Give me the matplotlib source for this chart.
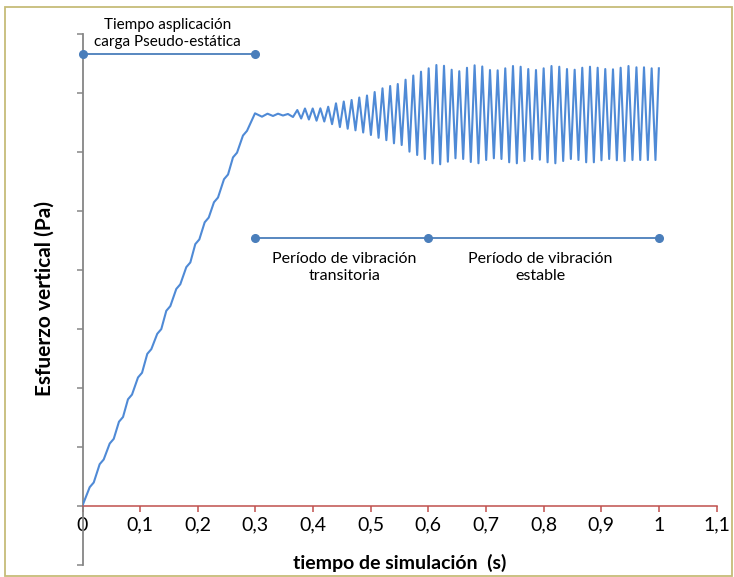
import matplotlib
matplotlib.use('Agg')
import matplotlib.pyplot as plt
import numpy as np
from matplotlib.patches import Rectangle

plt.rcParams['font.family'] = ['Lato', 'DejaVu Sans']

# ---- datos (tiempo en s, esfuerzo en unidades de la grilla) ----
ramp_t = [0.0, 0.0125, 0.0195, 0.0298, 0.0368, 0.0472, 0.0542, 0.0633, 0.0703, 0.0789,
          0.0859, 0.0963, 0.1033, 0.1124, 0.1194, 0.1297, 0.1367, 0.1454, 0.1524, 0.1627,
          0.1697, 0.1801, 0.1871, 0.1957, 0.2027, 0.2120, 0.2190, 0.2281, 0.2351, 0.2455,
          0.2525, 0.2611, 0.2681, 0.2784, 0.2854, 0.2993]
ramp_v = [0.0, 0.31, 0.39, 0.70, 0.78, 1.05, 1.13, 1.42, 1.50, 1.80,
          1.88, 2.17, 2.25, 2.57, 2.65, 2.91, 2.99, 3.30, 3.38, 3.67,
          3.75, 4.04, 4.12, 4.43, 4.51, 4.80, 4.88, 5.14, 5.22, 5.53,
          5.61, 5.90, 5.98, 6.27, 6.35, 6.647]

plateau_t = [0.3114, 0.3210, 0.3305, 0.3392, 0.3478, 0.3565, 0.3652]
plateau_v = [6.590, 6.641, 6.602, 6.641, 6.610, 6.636, 6.585]

peak_t = [0.3727, 0.3860, 0.3994, 0.4127, 0.4263, 0.4398, 0.4533, 0.4669, 0.4802, 0.4936,
          0.5069, 0.5205, 0.5338, 0.5470, 0.5605, 0.5739, 0.5873, 0.6006, 0.6140, 0.6272,
          0.6405, 0.6537, 0.6671, 0.6803, 0.6936, 0.7070, 0.7203, 0.7335, 0.7469, 0.7602,
          0.7734, 0.7868, 0.8001, 0.8137, 0.8272, 0.8406, 0.8539, 0.8671, 0.8805, 0.8938,
          0.9070, 0.9204, 0.9337, 0.9473, 0.9611, 0.9742, 0.9875, 1.0]
peak_v = [6.703, 6.729, 6.729, 6.732, 6.759, 6.817, 6.847, 6.873, 6.915, 6.949,
          7.008, 7.071, 7.110, 7.144, 7.217, 7.288, 7.353, 7.410, 7.466, 7.453,
          7.386, 7.361, 7.419, 7.461, 7.441, 7.381, 7.376, 7.410, 7.449, 7.437,
          7.398, 7.381, 7.410, 7.449, 7.437, 7.398, 7.386, 7.420, 7.437, 7.420,
          7.398, 7.393, 7.420, 7.449, 7.427, 7.427, 7.410, 7.410]

valley_t = [0.3794, 0.3928, 0.4061, 0.4195, 0.4330, 0.4466, 0.4601, 0.4736, 0.4870, 0.5004,
            0.5137, 0.5272, 0.5404, 0.5538, 0.5673, 0.5807, 0.5940, 0.6074, 0.6206, 0.6339,
            0.6471, 0.6605, 0.6737, 0.6870, 0.7004, 0.7137, 0.7269, 0.7403, 0.7536, 0.7668,
            0.7802, 0.7935, 0.8069, 0.8204, 0.8340, 0.8473, 0.8605, 0.8739, 0.8872, 0.9004,
            0.9138, 0.9271, 0.9405, 0.9542, 0.9677, 0.9809, 0.9941]
valley_v = [6.559, 6.542, 6.522, 6.508, 6.463, 6.415, 6.386, 6.359, 6.322, 6.280,
            6.232, 6.192, 6.139, 6.110, 5.997, 5.941, 5.873, 5.800, 5.783, 5.827,
            5.885, 5.873, 5.822, 5.800, 5.856, 5.885, 5.873, 5.817, 5.800, 5.839,
            5.873, 5.861, 5.817, 5.800, 5.839, 5.873, 5.856, 5.817, 5.817, 5.851,
            5.873, 5.851, 5.839, 5.856, 5.856, 5.856, 5.856]

# lineas de periodos
pseudo_t = [0.0, 0.3]
pseudo_v = [7.65, 7.65]
vib_t = [0.3, 0.6, 1.0]
vib_v = [4.53, 4.53, 4.53]

x_ticks = [0, 0.1, 0.2, 0.3, 0.4, 0.5, 0.6, 0.7, 0.8, 0.9, 1.0, 1.1]
x_tick_labels = ['0', '0,1', '0,2', '0,3', '0,4', '0,5', '0,6', '0,7', '0,8', '0,9', '1', '1,1']
y_ticks = [-1, 0, 1, 2, 3, 4, 5, 6, 7, 8]

# armar la serie completa
osc_t = np.array(peak_t + valley_t)
osc_v = np.array(peak_v + valley_v)
order = np.argsort(osc_t)
t = np.concatenate([ramp_t, plateau_t, osc_t[order]])
v = np.concatenate([ramp_v, plateau_v, osc_v[order]])

W, H = 734, 577
fig = plt.figure(figsize=(W / 100, H / 100), dpi=100)
ax = fig.add_axes([82.5 / W, 1 - 564.5 / H, 634 / W, 531 / H])

ax.plot(t, v, color='#4f8ad6', lw=1.5, solid_joinstyle='round', zorder=3)
ax.plot(pseudo_t, pseudo_v, color='#4a7ebb', lw=1.3, marker='o', ms=5.5, clip_on=False, zorder=4)
ax.plot(vib_t, vib_v, color='#4a7ebb', lw=1.3, marker='o', ms=5.5, clip_on=False, zorder=4)

ax.text(0.148, 8.0, 'Tiempo asplicación\ncarga Pseudo-estática', ha='center', va='center',
        fontsize=11, linespacing=1.35, clip_on=False)
ax.text(0.454, 4.03, 'Período de vibración\ntransitoria', ha='center', va='center',
        fontsize=11.5, linespacing=1.3)
ax.text(0.794, 4.03, 'Período de vibración\nestable', ha='center', va='center',
        fontsize=11.5, linespacing=1.3)

ax.set_xlim(0, 1.1)
ax.set_ylim(-1, 8)
ax.set_xticks(x_ticks)
ax.set_xticklabels(x_tick_labels)
ax.set_yticks(y_ticks)
ax.set_yticklabels([])

ax.spines['top'].set_visible(False)
ax.spines['right'].set_visible(False)
ax.spines['bottom'].set_position(('data', 0))
ax.spines['bottom'].set_color('#c0504d')
ax.spines['bottom'].set_linewidth(1.1)
ax.spines['left'].set_color('#868686')
ax.spines['left'].set_linewidth(1.3)
ax.tick_params(axis='x', color='#c0504d', labelcolor='black', length=4, width=1.1,
               labelsize=14, pad=4)
ax.tick_params(axis='y', color='#868686', length=4, width=1.1)

ax.set_xlabel('tiempo de simulación  (s)', fontsize=14, fontweight='bold', va='center')
ax.xaxis.set_label_coords(0.5, 0.003)
ax.set_ylabel('Esfuerzo vertical (Pa)', fontsize=15, fontweight='bold', va='center')
ax.yaxis.set_label_coords(-0.059, 0.5)

# borde del grafico
fig.patches.append(Rectangle((5 / W, 1.5 / H), 727 / W, 568.5 / H, transform=fig.transFigure,
                             fill=False, edgecolor='#c6bc78', lw=1.3))

fig.savefig('out.png', dpi=100)
